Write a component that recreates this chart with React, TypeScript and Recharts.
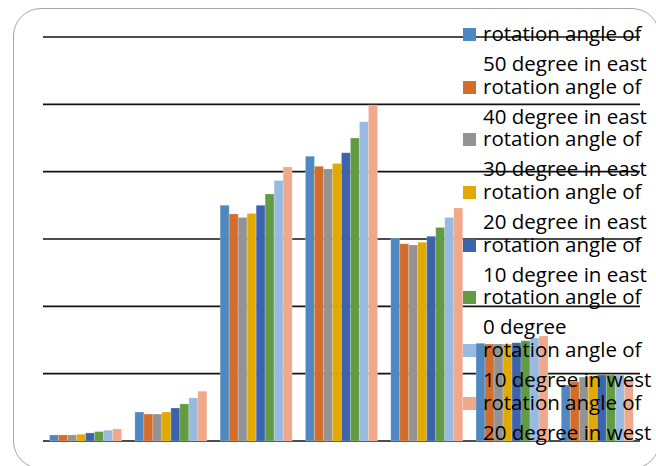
import { Bar, BarChart, CartesianGrid, Legend, XAxis, YAxis } from "recharts";

const categories = ["1", "2", "3", "4", "5", "6", "7"];

const seriesNames = [
  "rotation angle of 50 degree in east",
  "rotation angle of 40 degree in east",
  "rotation angle of 30 degree in east",
  "rotation angle of 20 degree in east",
  "rotation angle of 10 degree in east",
  "rotation angle of 0 degree",
  "rotation angle of 10 degree in west",
  "rotation angle of 20 degree in west",
];

const east50 = [0.9, 4.3, 35.0, 42.3, 30.1, 14.5, 8.3];
const east40 = [0.9, 4.0, 33.7, 40.8, 29.3, 14.4, 8.8];
const east30 = [0.9, 4.0, 33.2, 40.4, 29.1, 14.4, 9.5];
const east20 = [1.0, 4.3, 33.8, 41.2, 29.5, 14.4, 9.7];
const east10 = [1.2, 4.9, 35.0, 42.8, 30.4, 14.6, 9.8];
const zero = [1.4, 5.5, 36.7, 45.0, 31.7, 14.9, 9.8];
const west10 = [1.6, 6.4, 38.7, 47.4, 33.2, 15.3, 9.8];
const west20 = [1.8, 7.4, 40.7, 49.9, 34.6, 15.6, 9.2];

const yTicks = [0, 10, 20, 30, 40, 50, 60];

const COLORS = [
  "#4f88c0",
  "#d46c2a",
  "#939393",
  "#e2aa00",
  "#3c64ae",
  "#629b41",
  "#98b9e0",
  "#f0a88a",
];

const allSeries = [east50, east40, east30, east20, east10, zero, west10, west20];

const data = categories.map((c, i) => {
  const row: Record<string, string | number> = { name: c };
  allSeries.forEach((s, k) => {
    row["s" + k] = s[i];
  });
  return row;
});

// keeps the series order instead of the alphabetical default
function StackedLegend({ payload }: { payload?: any[] }) {
  if (!payload) return null;
  const items = [...payload].sort(
    (a, b) => seriesNames.indexOf(String(a.value)) - seriesNames.indexOf(String(b.value))
  );
  return (
    <div style={{ fontFamily: "'Open Sans', sans-serif", fontSize: 20.5, color: "#000" }}>
      {items.map((item) => {
        const name = String(item.value);
        const cut = name.indexOf(" of ") + 3;
        return (
          <div key={name} style={{ position: "relative", height: 52.7 }}>
            <span
              style={{
                position: "absolute",
                left: 0,
                top: 10,
                width: 13,
                height: 13,
                background: item.color,
              }}
            />
            <div style={{ position: "absolute", left: 20, top: 0, lineHeight: "30px", whiteSpace: "nowrap" }}>
              <div>{name.slice(0, cut)}</div>
              <div>{name.slice(cut + 1)}</div>
            </div>
          </div>
        );
      })}
    </div>
  );
}

export default function App() {
  return (
    <div
      style={{
        position: "absolute",
        left: 0,
        top: 0,
        width: 656,
        height: 466,
        background: "#fff",
        overflow: "hidden",
      }}
    >
      <div
        style={{
          position: "absolute",
          left: 13,
          top: 8,
          width: 645,
          height: 459,
          border: "1px solid #a6a6a6",
          borderRadius: 28,
        }}
      />
      <BarChart
        width={656}
        height={466}
        data={data}
        margin={{ top: 37, right: 16, bottom: 25, left: 43 }}
        barGap={0}
        barCategoryGap={6.6}
        style={{ position: "absolute", left: 0, top: 0 }}
      >
        <CartesianGrid vertical={false} stroke="#111" strokeWidth={1.6} />
        <XAxis dataKey="name" hide />
        <YAxis hide domain={[0, 60]} ticks={yTicks} />
        <Legend
          layout="vertical"
          align="center"
          verticalAlign="middle"
          wrapperStyle={{ left: 463, top: 18, width: 200 }}
          content={<StackedLegend />}
        />
        {seriesNames.map((n, k) => (
          <Bar
            key={n}
            dataKey={"s" + k}
            name={n}
            fill={COLORS[k]}
            stroke="#ffffff"
            strokeOpacity={0.35}
            strokeWidth={0.6}
            isAnimationActive={false}
          />
        ))}
      </BarChart>
    </div>
  );
}
